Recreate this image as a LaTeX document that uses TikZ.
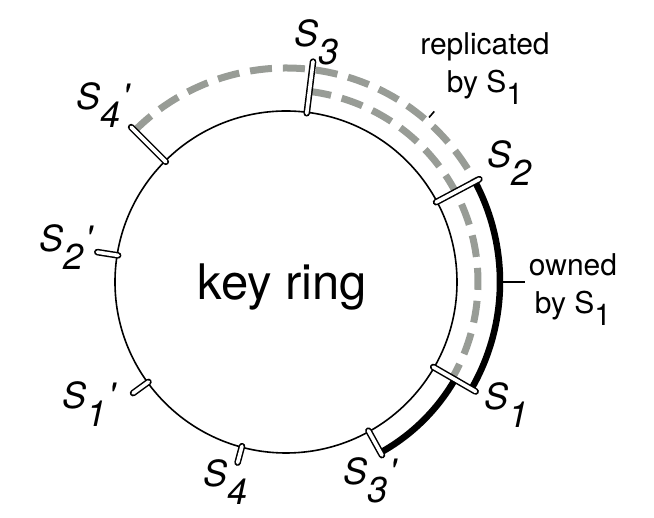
\documentclass[tikz,border=0pt]{standalone}
\usepackage{fontspec}
\setmainfont{TeX Gyre Heros}
\definecolor{replgray}{RGB}{152,156,150}
% server name: italic S, lowered index, optional prime
\newcommand{\srvname}[2]{\textit{S\raisebox{-0.5em}{#1}#2}}
\newcommand{\lowidx}[1]{\raisebox{-0.42em}{#1}}
\newcommand{\pr}{\kern0.05em\textquotesingle}
\begin{document}
\begin{tikzpicture}[x=1pt, y=1pt,
        ring/.style={line width=1.6pt},
        repl/.style={replgray, line width=7pt, dash pattern=on 22pt off 11pt},
        own/.style={black, line width=6.5pt},
        srvmark/.style={line width=1.5pt, double=white, double distance=3.6pt, line cap=round},
        srvlbl/.style={inner sep=0pt, font=\fontsize{36}{36}\selectfont},
        note/.style={inner sep=0pt, align=center, font=\fontsize{30}{38}\selectfont}]
        \useasboundingbox (-286,-236) rectangle (368,282);
        % ── ring ─────────────────────────────────────────────
        \draw[ring] (0,0) circle (171pt);
        \node[inner sep=0pt, font=\fontsize{49}{49}\selectfont] (key) at (-3.5,-5) {key ring};
        % ── replicated ranges ────────────────────────────────
        \draw[repl] (135:214pt) arc[start angle=135, end angle=28, radius=214pt];
        \draw[repl] (83:192pt) arc[start angle=83, end angle=-30, radius=192pt];
        % ── owned range ──────────────────────────────────────
        \draw[own] (-61:195pt) arc[start angle=-61, end angle=-30, radius=195pt];
        \draw[own] (-30:214pt) arc[start angle=-30, end angle=28, radius=214pt];
        % ── server positions ─────────────────────────────────
        \foreach \a/\r in {83/222, 135/219, 171/191, 216/189, 255/187, 299/198, 330/219, 28/219} {
            \draw[srvmark] (\a:170pt) -- (\a:\r pt);
        }
        % ── server names ─────────────────────────────────────
        \node[srvlbl] (s3)  at (31,240)    {\srvname{3}{}};
        \node[srvlbl] (s4p) at (-182,177)  {\srvname{4}{\pr}};
        \node[srvlbl] (s2p) at (-219,35)   {\srvname{2}{\pr}};
        \node[srvlbl] (s1p) at (-196,-122) {\srvname{1}{\pr}};
        \node[srvlbl] (s4)  at (-60,-200)  {\srvname{4}{}};
        \node[srvlbl] (s3p) at (85,-198)   {\srvname{3}{\pr}};
        \node[srvlbl] (s1)  at (221,-123)  {\srvname{1}{}};
        \node[srvlbl] (s2)  at (224,119)   {\srvname{2}{}};
        % ── notes with leaders ───────────────────────────────
        \node[note, anchor=north] (repltxt) at (199,250) {replicated\\by S\lowidx{1}};
        \coordinate (replin) at (49:218pt);
        \coordinate (replout) at (49:226pt);
        \draw[ring] (replin) -- (replout);
        \node[note, anchor=north] (owntxt) at (287,29) {owned\\by S\lowidx{1}};
        \coordinate (ownin) at (0:216pt);
        \coordinate (ownout) at (239,0);
        \draw[ring] (ownin) -- (ownout);
\end{tikzpicture}
\end{document}
